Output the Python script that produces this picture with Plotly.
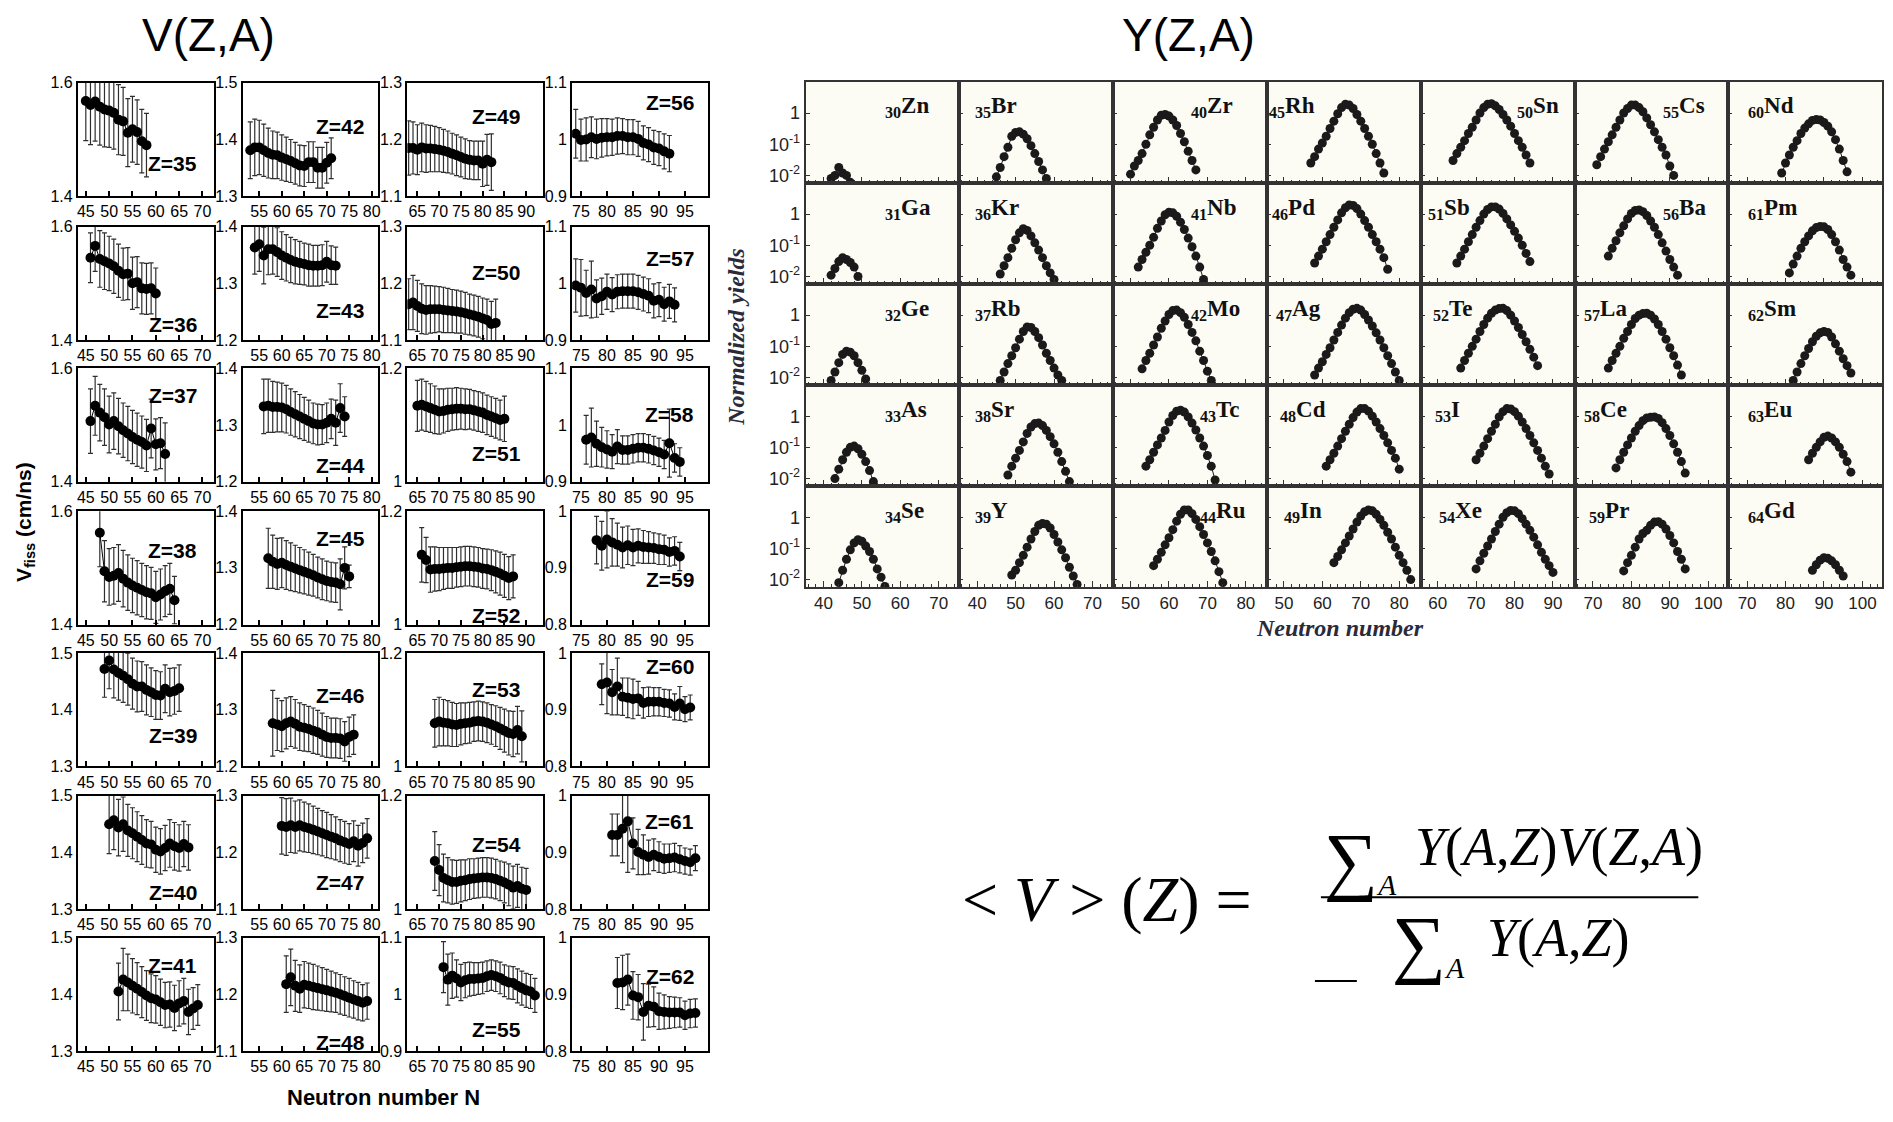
import plotly.graph_objects as go

W, H = 1893, 1122

# ---------------- V(Z,A): fission-fragment velocities (cm/ns) ----------------
V_Z = list(range(35, 63))
V_N_START = [45, 46, 46, 48, 49, 50, 52,
             53, 54, 56, 57, 58, 60, 61,
             63, 63, 65, 66, 69, 69, 71,
             74, 74, 76, 78, 79, 81, 82]
V_VALUES = [
    [1.568, 1.561, 1.567, 1.558, 1.553, 1.551, 1.547, 1.535, 1.532, 1.512, 1.518, 1.513, 1.497, 1.490],
    [1.545, 1.566, 1.543, 1.539, 1.535, 1.530, 1.522, 1.516, 1.517, 1.500, 1.502, 1.491, 1.490, 1.491, 1.482],
    [1.507, 1.534, 1.522, 1.514, 1.501, 1.507, 1.498, 1.491, 1.485, 1.479, 1.474, 1.470, 1.464, 1.494, 1.466, 1.468, 1.449],
    [1.562, 1.494, 1.484, 1.486, 1.491, 1.481, 1.474, 1.469, 1.465, 1.461, 1.457, 1.455, 1.448, 1.453, 1.459, 1.463, 1.443],
    [1.472, 1.487, 1.471, 1.465, 1.460, 1.454, 1.446, 1.441, 1.441, 1.435, 1.431, 1.426, 1.425, 1.437, 1.431, 1.433, 1.438],
    [1.450, 1.457, 1.444, 1.450, 1.439, 1.434, 1.428, 1.422, 1.416, 1.414, 1.405, 1.402, 1.408, 1.416, 1.411, 1.408, 1.415, 1.409],
    [1.405, 1.426, 1.421, 1.415, 1.410, 1.404, 1.398, 1.393, 1.391, 1.386, 1.381, 1.382, 1.376, 1.384, 1.388, 1.369, 1.375, 1.381],
    [1.381, 1.386, 1.386, 1.381, 1.376, 1.373, 1.372, 1.368, 1.365, 1.362, 1.358, 1.354, 1.353, 1.360, 1.360, 1.350, 1.350, 1.359, 1.367],
    [1.363, 1.369, 1.349, 1.360, 1.360, 1.355, 1.349, 1.345, 1.341, 1.338, 1.336, 1.334, 1.332, 1.331, 1.331, 1.332, 1.338, 1.332, 1.331],
    [1.333, 1.334, 1.332, 1.332, 1.331, 1.328, 1.323, 1.319, 1.315, 1.311, 1.307, 1.303, 1.301, 1.301, 1.304, 1.311, 1.304, 1.330, 1.315],
    [1.317, 1.311, 1.307, 1.309, 1.305, 1.302, 1.299, 1.296, 1.293, 1.290, 1.287, 1.283, 1.280, 1.277, 1.275, 1.274, 1.271, 1.300, 1.285],
    [1.276, 1.274, 1.271, 1.276, 1.279, 1.275, 1.270, 1.268, 1.266, 1.263, 1.260, 1.256, 1.252, 1.250, 1.250, 1.249, 1.244, 1.252, 1.256],
    [1.247, 1.245, 1.248, 1.245, 1.248, 1.245, 1.243, 1.240, 1.237, 1.234, 1.231, 1.228, 1.225, 1.221, 1.218, 1.215, 1.220, 1.212, 1.217, 1.225],
    [1.218, 1.230, 1.215, 1.210, 1.217, 1.215, 1.213, 1.211, 1.209, 1.207, 1.205, 1.203, 1.200, 1.197, 1.194, 1.191, 1.188, 1.185, 1.188],
    [1.185, 1.185, 1.182, 1.186, 1.184, 1.184, 1.183, 1.182, 1.180, 1.178, 1.175, 1.172, 1.169, 1.166, 1.164, 1.163, 1.163, 1.157, 1.164, 1.160],
    [1.163, 1.166, 1.160, 1.155, 1.153, 1.154, 1.154, 1.154, 1.153, 1.152, 1.151, 1.150, 1.149, 1.147, 1.145, 1.143, 1.141, 1.138, 1.135, 1.128, 1.130],
    [1.134, 1.136, 1.133, 1.130, 1.127, 1.124, 1.125, 1.127, 1.128, 1.129, 1.129, 1.128, 1.128, 1.126, 1.124, 1.122, 1.118, 1.115, 1.112, 1.109, 1.111],
    [1.123, 1.114, 1.097, 1.098, 1.098, 1.099, 1.100, 1.100, 1.101, 1.102, 1.103, 1.103, 1.102, 1.101, 1.099, 1.098, 1.096, 1.093, 1.090, 1.086, 1.082, 1.085],
    [1.076, 1.079, 1.077, 1.076, 1.074, 1.073, 1.075, 1.076, 1.077, 1.079, 1.080, 1.079, 1.077, 1.074, 1.071, 1.067, 1.063, 1.059, 1.057, 1.064, 1.053],
    [1.085, 1.069, 1.055, 1.051, 1.048, 1.048, 1.050, 1.051, 1.053, 1.054, 1.055, 1.056, 1.056, 1.055, 1.053, 1.050, 1.047, 1.043, 1.038, 1.041, 1.036, 1.034],
    [1.048, 1.026, 1.033, 1.028, 1.021, 1.025, 1.027, 1.027, 1.028, 1.029, 1.032, 1.034, 1.032, 1.029, 1.024, 1.021, 1.020, 1.015, 1.011, 1.007, 1.005, 0.998],
    [1.010, 0.999, 1.000, 1.004, 1.001, 1.003, 1.004, 1.004, 1.006, 1.006, 1.004, 1.004, 1.001, 0.994, 0.991, 0.986, 0.984, 0.979, 0.975],
    [0.996, 0.992, 0.983, 0.989, 0.973, 0.977, 0.985, 0.980, 0.985, 0.986, 0.986, 0.986, 0.984, 0.981, 0.978, 0.969, 0.971, 0.963, 0.968, 0.962],
    [0.974, 0.978, 0.967, 0.961, 0.957, 0.953, 0.962, 0.956, 0.956, 0.958, 0.960, 0.960, 0.958, 0.955, 0.952, 0.948, 0.968, 0.942, 0.935],
    [0.949, 0.939, 0.950, 0.945, 0.941, 0.936, 0.940, 0.936, 0.939, 0.937, 0.936, 0.935, 0.933, 0.932, 0.928, 0.930, 0.920],
    [0.945, 0.948, 0.931, 0.941, 0.923, 0.921, 0.919, 0.920, 0.912, 0.914, 0.914, 0.914, 0.912, 0.911, 0.905, 0.911, 0.901, 0.904],
    [0.931, 0.931, 0.942, 0.955, 0.916, 0.901, 0.896, 0.892, 0.896, 0.892, 0.889, 0.890, 0.891, 0.888, 0.885, 0.883, 0.890],
    [0.920, 0.921, 0.926, 0.898, 0.895, 0.869, 0.880, 0.878, 0.870, 0.869, 0.868, 0.868, 0.868, 0.863, 0.866, 0.867],
]
V_ERRORS = [
    [0.07, 0.07, 0.07, 0.068, 0.066, 0.065, 0.064, 0.062, 0.06, 0.06, 0.058, 0.057, 0.056, 0.056],
    [0.044, 0.045, 0.05, 0.05, 0.048, 0.048, 0.047, 0.046, 0.046, 0.046, 0.045, 0.045, 0.045, 0.045, 0.045],
    [0.057, 0.052, 0.05, 0.05, 0.05, 0.05, 0.049, 0.048, 0.048, 0.047, 0.047, 0.046, 0.046, 0.052, 0.045, 0.045, 0.055],
    [0.06, 0.054, 0.05, 0.05, 0.05, 0.05, 0.049, 0.048, 0.048, 0.047, 0.047, 0.046, 0.046, 0.045, 0.045, 0.045, 0.042],
    [0.05, 0.05, 0.05, 0.048, 0.047, 0.046, 0.045, 0.045, 0.044, 0.044, 0.043, 0.043, 0.042, 0.042, 0.042, 0.041, 0.041],
    [0.052, 0.052, 0.05, 0.048, 0.046, 0.045, 0.044, 0.043, 0.042, 0.041, 0.04, 0.04, 0.04, 0.042, 0.042, 0.041, 0.04, 0.04],
    [0.05, 0.055, 0.05, 0.048, 0.046, 0.045, 0.044, 0.043, 0.042, 0.041, 0.04, 0.04, 0.04, 0.04, 0.04, 0.04, 0.037, 0.036],
    [0.05, 0.05, 0.048, 0.046, 0.044, 0.042, 0.041, 0.04, 0.039, 0.038, 0.037, 0.036, 0.036, 0.036, 0.036, 0.036, 0.036, 0.036, 0.036],
    [0.047, 0.048, 0.05, 0.045, 0.044, 0.043, 0.042, 0.041, 0.04, 0.039, 0.038, 0.037, 0.037, 0.036, 0.036, 0.036, 0.036, 0.034, 0.033],
    [0.048, 0.047, 0.045, 0.044, 0.043, 0.042, 0.041, 0.04, 0.039, 0.038, 0.037, 0.036, 0.036, 0.035, 0.035, 0.035, 0.04, 0.043, 0.035],
    [0.053, 0.047, 0.045, 0.044, 0.043, 0.042, 0.041, 0.04, 0.039, 0.038, 0.037, 0.036, 0.036, 0.035, 0.035, 0.035, 0.045, 0.037, 0.02],
    [0.058, 0.046, 0.045, 0.045, 0.044, 0.043, 0.042, 0.041, 0.04, 0.04, 0.039, 0.038, 0.036, 0.035, 0.035, 0.035, 0.035, 0.035, 0.035],
    [0.05, 0.05, 0.048, 0.046, 0.045, 0.044, 0.043, 0.042, 0.041, 0.04, 0.04, 0.039, 0.038, 0.037, 0.037, 0.036, 0.036, 0.036, 0.035, 0.035],
    [0.05, 0.05, 0.045, 0.042, 0.041, 0.04, 0.04, 0.039, 0.038, 0.037, 0.036, 0.035, 0.035, 0.034, 0.034, 0.033, 0.033, 0.032, 0.032],
    [0.048, 0.046, 0.044, 0.043, 0.042, 0.041, 0.04, 0.039, 0.038, 0.037, 0.036, 0.036, 0.035, 0.035, 0.034, 0.034, 0.034, 0.04, 0.045, 0.05],
    [0.045, 0.048, 0.045, 0.044, 0.043, 0.042, 0.041, 0.04, 0.04, 0.039, 0.038, 0.038, 0.037, 0.037, 0.036, 0.036, 0.036, 0.036, 0.037, 0.04, 0.042],
    [0.045, 0.045, 0.044, 0.043, 0.042, 0.04, 0.039, 0.038, 0.037, 0.037, 0.036, 0.036, 0.035, 0.035, 0.035, 0.035, 0.035, 0.035, 0.035, 0.035, 0.04],
    [0.048, 0.04, 0.04, 0.039, 0.038, 0.037, 0.036, 0.036, 0.035, 0.035, 0.035, 0.035, 0.035, 0.035, 0.035, 0.035, 0.036, 0.037, 0.038, 0.038, 0.038, 0.038],
    [0.042, 0.043, 0.041, 0.04, 0.039, 0.038, 0.037, 0.036, 0.036, 0.035, 0.035, 0.035, 0.035, 0.035, 0.036, 0.037, 0.038, 0.039, 0.04, 0.042, 0.045],
    [0.052, 0.045, 0.042, 0.04, 0.039, 0.038, 0.037, 0.036, 0.036, 0.035, 0.035, 0.035, 0.035, 0.035, 0.035, 0.035, 0.036, 0.037, 0.038, 0.038, 0.038, 0.038],
    [0.045, 0.045, 0.04, 0.033, 0.032, 0.031, 0.03, 0.029, 0.028, 0.028, 0.027, 0.027, 0.027, 0.028, 0.028, 0.029, 0.029, 0.03, 0.03, 0.03, 0.03, 0.03],
    [0.043, 0.037, 0.038, 0.036, 0.035, 0.034, 0.033, 0.032, 0.032, 0.031, 0.031, 0.031, 0.031, 0.03, 0.03, 0.03, 0.03, 0.031, 0.032],
    [0.047, 0.05, 0.04, 0.05, 0.033, 0.032, 0.031, 0.03, 0.03, 0.03, 0.03, 0.03, 0.03, 0.03, 0.03, 0.03, 0.03, 0.03, 0.03, 0.03],
    [0.043, 0.052, 0.04, 0.035, 0.033, 0.03, 0.03, 0.025, 0.025, 0.025, 0.025, 0.025, 0.025, 0.025, 0.025, 0.025, 0.06, 0.025, 0.025],
    [0.042, 0.043, 0.05, 0.042, 0.038, 0.036, 0.034, 0.032, 0.03, 0.029, 0.028, 0.027, 0.027, 0.026, 0.025, 0.025, 0.025],
    [0.036, 0.055, 0.04, 0.05, 0.033, 0.035, 0.035, 0.03, 0.027, 0.026, 0.025, 0.025, 0.024, 0.024, 0.023, 0.03, 0.022, 0.022],
    [0.037, 0.037, 0.06, 0.09, 0.045, 0.04, 0.035, 0.03, 0.028, 0.027, 0.026, 0.025, 0.025, 0.024, 0.023, 0.023, 0.022],
    [0.045, 0.048, 0.045, 0.042, 0.04, 0.05, 0.038, 0.035, 0.032, 0.03, 0.028, 0.027, 0.026, 0.025, 0.025, 0.025],
]
V_YTICKS = [
    [1.4, 1.6], [1.4, 1.6], [1.4, 1.6], [1.4, 1.6], [1.3, 1.4, 1.5], [1.3, 1.4, 1.5], [1.3, 1.4, 1.5],
    [1.3, 1.4, 1.5], [1.2, 1.3, 1.4], [1.2, 1.3, 1.4], [1.2, 1.3, 1.4], [1.2, 1.3, 1.4], [1.1, 1.2, 1.3], [1.1, 1.2, 1.3],
    [1.1, 1.2, 1.3], [1.1, 1.2, 1.3], [1.0, 1.2], [1.0, 1.2], [1.0, 1.2], [1.0, 1.2], [0.9, 1.0, 1.1],
    [0.9, 1.0, 1.1], [0.9, 1.0, 1.1], [0.9, 1.0, 1.1], [0.8, 0.9, 1.0], [0.8, 0.9, 1.0], [0.8, 0.9, 1.0], [0.8, 0.9, 1.0],
]
V_XRANGE = [[43.3, 72.4], [51.3, 81.5], [62.7, 93.9], [73.3, 99.4]]

# ---------------- Y(Z,A): normalized isotopic yields ----------------
Y_SYMBOLS = ["Zn", "Ga", "Ge", "As", "Se", "Br", "Kr", "Rb", "Sr", "Y",
             "Zr", "Nb", "Mo", "Tc", "Ru", "Rh", "Pd", "Ag", "Cd", "In",
             "Sn", "Sb", "Te", "I", "Xe", "Cs", "Ba", "La", "Ce", "Pr",
             "Nd", "Pm", "Sm", "Eu", "Gd"]
Y_Z = list(range(30, 65))
Y_N_START = [42, 42, 42, 43, 44, 45, 46, 46, 48, 49,
             50, 52, 53, 54, 56, 57, 58, 58, 61, 63,
             64, 65, 66, 70, 70, 71, 74, 74, 76, 78,
             79, 81, 82, 86, 87]
Y_VALUES = [
    [0.008, 0.01, 0.018, 0.012, 0.01, 0.006],
    [0.011, 0.018, 0.03, 0.04, 0.035, 0.028, 0.02, 0.01],
    [0.008, 0.015, 0.03, 0.055, 0.07, 0.065, 0.05, 0.03, 0.017, 0.009],
    [0.01, 0.02, 0.04, 0.07, 0.1, 0.11, 0.09, 0.06, 0.035, 0.018, 0.008],
    [0.008, 0.02, 0.045, 0.09, 0.15, 0.19, 0.17, 0.12, 0.08, 0.045, 0.022, 0.012, 0.006],
    [0.009, 0.018, 0.04, 0.08, 0.18, 0.24, 0.25, 0.21, 0.15, 0.09, 0.05, 0.028, 0.015, 0.008],
    [0.012, 0.022, 0.04, 0.08, 0.15, 0.25, 0.34, 0.3, 0.2, 0.12, 0.07, 0.04, 0.022, 0.013, 0.008],
    [0.008, 0.015, 0.028, 0.05, 0.09, 0.17, 0.3, 0.42, 0.4, 0.3, 0.19, 0.11, 0.06, 0.035, 0.02, 0.012, 0.008],
    [0.013, 0.025, 0.045, 0.08, 0.15, 0.28, 0.45, 0.58, 0.6, 0.5, 0.35, 0.22, 0.13, 0.07, 0.035, 0.017, 0.008],
    [0.014, 0.02, 0.035, 0.06, 0.11, 0.2, 0.35, 0.55, 0.63, 0.6, 0.45, 0.28, 0.16, 0.09, 0.05, 0.025, 0.013, 0.007],
    [0.011, 0.02, 0.03, 0.05, 0.1, 0.2, 0.35, 0.6, 0.85, 0.9, 0.8, 0.6, 0.4, 0.22, 0.12, 0.06, 0.03, 0.015],
    [0.02, 0.035, 0.06, 0.1, 0.18, 0.35, 0.6, 0.95, 1.15, 1.1, 0.85, 0.55, 0.32, 0.17, 0.09, 0.045, 0.02, 0.008],
    [0.019, 0.035, 0.06, 0.11, 0.2, 0.38, 0.65, 1.05, 1.4, 1.45, 1.2, 0.85, 0.5, 0.28, 0.15, 0.07, 0.035, 0.016, 0.008],
    [0.025, 0.04, 0.07, 0.12, 0.2, 0.35, 0.65, 1.05, 1.45, 1.55, 1.35, 0.95, 0.6, 0.36, 0.2, 0.11, 0.055, 0.025, 0.009],
    [0.028, 0.045, 0.075, 0.13, 0.22, 0.4, 0.75, 1.25, 1.7, 1.7, 1.3, 0.85, 0.5, 0.28, 0.15, 0.08, 0.04, 0.018, 0.008],
    [0.025, 0.04, 0.07, 0.11, 0.18, 0.32, 0.55, 0.95, 1.5, 1.9, 1.8, 1.4, 0.9, 0.55, 0.32, 0.18, 0.1, 0.05, 0.025, 0.012],
    [0.027, 0.045, 0.075, 0.13, 0.22, 0.38, 0.65, 1.1, 1.6, 1.95, 1.9, 1.5, 1.0, 0.62, 0.38, 0.22, 0.13, 0.075, 0.04, 0.017],
    [0.012, 0.02, 0.032, 0.055, 0.09, 0.16, 0.28, 0.48, 0.8, 1.2, 1.55, 1.65, 1.45, 1.05, 0.7, 0.45, 0.27, 0.16, 0.09, 0.05, 0.028, 0.015, 0.008],
    [0.025, 0.04, 0.065, 0.11, 0.19, 0.33, 0.55, 0.9, 1.35, 1.75, 1.75, 1.45, 1.0, 0.65, 0.4, 0.24, 0.14, 0.08, 0.045, 0.02],
    [0.035, 0.055, 0.09, 0.15, 0.25, 0.42, 0.7, 1.1, 1.5, 1.7, 1.6, 1.25, 0.85, 0.55, 0.33, 0.2, 0.11, 0.06, 0.035, 0.02, 0.01],
    [0.03, 0.05, 0.08, 0.13, 0.22, 0.35, 0.6, 1.0, 1.5, 1.9, 2.0, 1.7, 1.3, 0.9, 0.6, 0.38, 0.22, 0.13, 0.08, 0.045, 0.025],
    [0.027, 0.045, 0.075, 0.13, 0.22, 0.38, 0.62, 1.0, 1.4, 1.7, 1.7, 1.45, 1.05, 0.7, 0.45, 0.28, 0.17, 0.1, 0.055, 0.03],
    [0.02, 0.035, 0.06, 0.1, 0.17, 0.3, 0.5, 0.8, 1.15, 1.45, 1.62, 1.65, 1.4, 1.0, 0.65, 0.4, 0.24, 0.14, 0.08, 0.045, 0.024],
    [0.04, 0.065, 0.11, 0.19, 0.33, 0.55, 0.95, 1.4, 1.75, 1.7, 1.4, 1.0, 0.65, 0.4, 0.24, 0.14, 0.08, 0.045, 0.025, 0.014],
    [0.022, 0.04, 0.07, 0.12, 0.2, 0.35, 0.6, 1.0, 1.4, 1.65, 1.6, 1.3, 0.9, 0.6, 0.38, 0.23, 0.13, 0.075, 0.045, 0.028, 0.017],
    [0.022, 0.04, 0.07, 0.12, 0.2, 0.35, 0.6, 1.0, 1.4, 1.8, 1.8, 1.5, 1.1, 0.7, 0.42, 0.25, 0.14, 0.08, 0.045, 0.02, 0.01],
    [0.045, 0.08, 0.14, 0.25, 0.42, 0.7, 1.05, 1.3, 1.35, 1.2, 0.9, 0.6, 0.38, 0.22, 0.12, 0.065, 0.035, 0.02, 0.011],
    [0.02, 0.035, 0.06, 0.1, 0.18, 0.3, 0.5, 0.78, 1.0, 1.12, 1.15, 1.0, 0.75, 0.5, 0.3, 0.17, 0.09, 0.05, 0.025, 0.012],
    [0.022, 0.04, 0.07, 0.12, 0.2, 0.33, 0.5, 0.72, 0.88, 0.92, 0.95, 0.85, 0.62, 0.4, 0.24, 0.13, 0.07, 0.035, 0.015],
    [0.019, 0.035, 0.06, 0.11, 0.2, 0.3, 0.38, 0.55, 0.7, 0.72, 0.6, 0.42, 0.26, 0.15, 0.08, 0.045, 0.022],
    [0.012, 0.025, 0.045, 0.08, 0.13, 0.22, 0.33, 0.45, 0.58, 0.62, 0.6, 0.5, 0.38, 0.25, 0.14, 0.07, 0.03, 0.013],
    [0.013, 0.025, 0.045, 0.08, 0.13, 0.2, 0.29, 0.37, 0.4, 0.39, 0.32, 0.22, 0.13, 0.07, 0.035, 0.02, 0.011],
    [0.008, 0.015, 0.028, 0.05, 0.085, 0.14, 0.21, 0.27, 0.3, 0.28, 0.2, 0.12, 0.07, 0.04, 0.024, 0.014],
    [0.04, 0.065, 0.1, 0.15, 0.21, 0.23, 0.2, 0.15, 0.1, 0.06, 0.035, 0.016],
    [0.02, 0.03, 0.042, 0.05, 0.048, 0.04, 0.03, 0.02, 0.013],
]
Y_XRANGE = [[35.4, 75.4], [35.4, 75.4], [45.5, 85.5], [45.6, 85.6],
            [55.6, 95.6], [65.2, 105.2], [65.1, 105.1]]
Y_YTICKS = [0.01, 0.1, 1]
Y_YTICKTEXT = ["10<sup>-2</sup>", "10<sup>-1</sup>", "1"]

# ---------------- geometry (pixels) ----------------
V_COL_X = [77, 242, 407, 572]
V_ROW_Y = [76, 222, 366, 511, 655, 800, 944]
V_PW, V_PH = 136, 115
V_LABEL_POS = [(172, 158), (172, 321), (172, 393), (172, 551), (172, 739), (172, 898), (172, 972),
               (340, 120), (340, 307), (340, 465), (340, 539), (340, 698), (340, 888), (340, 1050),
               (496, 110), (496, 269), (496, 452), (496, 617), (496, 692), (496, 849), (496, 1037),
               (670, 96), (670, 254), (670, 413), (670, 580), (670, 669), (670, 826), (670, 983)]

Y_X0, Y_PW = 806, 154
Y_Y0, Y_PH = 75, 102.6
Y_LABEL_X = [883] * 5 + [974] * 5 + [1190, 1190, 1190, 1199, 1199] + [1268, 1271, 1275, 1279, 1283] + \
            [1516, 1427, 1432, 1434, 1438] + [1663, 1663, 1584, 1584, 1589] + [1748] * 5

SANS = "Liberation Sans, Arial, Helvetica, sans-serif"
SERIF = "Liberation Serif, Times New Roman, serif"


def fx(x):
    return x / W


def fy(y):
    return 1 - y / H


fig = go.Figure()
layout = {}
annotations = []
shapes = []


def axis_names(k):
    s = "" if k == 1 else str(k)
    return "x" + s, "y" + s, "xaxis" + s, "yaxis" + s


# ---- left block: velocity panels with error bars
for i, z in enumerate(V_Z):
    col, row = i // 7, i % 7
    k = i + 1
    xn, yn, xa, ya = axis_names(k)
    x0 = V_COL_X[col]
    y0 = V_ROW_Y[row]
    ns = [V_N_START[i] + j for j in range(len(V_VALUES[i]))]
    fig.add_trace(go.Scatter(
        x=ns, y=V_VALUES[i], xaxis=xn, yaxis=yn, mode="lines+markers",
        line=dict(color="black", width=1),
        marker=dict(size=10, color="black"),
        error_y=dict(type="data", array=V_ERRORS[i], color="#2e2e2e", thickness=1.2, width=2.5),
        showlegend=False, hoverinfo="skip"))
    ticks = V_YTICKS[i]
    layout[xa] = dict(domain=[fx(x0), fx(x0 + V_PW)], anchor=yn, range=V_XRANGE[col],
                      tick0=0, dtick=5, ticks="inside", ticklen=5, tickwidth=1.5, tickcolor="black",
                      showline=True, mirror=True, linecolor="black", linewidth=2,
                      showgrid=False, zeroline=False,
                      tickfont=dict(family=SANS, size=16, color="black"))
    layout[ya] = dict(domain=[fy(y0 + V_PH), fy(y0)], anchor=xn, range=[ticks[0], ticks[-1]],
                      tickmode="array", tickvals=ticks, ticktext=[f"{v:g}" for v in ticks],
                      ticks="", showline=True, mirror=True, linecolor="black", linewidth=2,
                      showgrid=False, zeroline=False,
                      tickfont=dict(family=SANS, size=16, color="black"))
    lx, ly = V_LABEL_POS[i]
    annotations.append(dict(x=fx(lx), y=fy(ly), xref="paper", yref="paper", showarrow=False,
                            text=f"<b>Z={z}</b>", xanchor="center", yanchor="middle",
                            font=dict(family=SANS, size=21, color="black")))

# ---- right block: yield panels on log scale
shapes.append(dict(type="rect", xref="paper", yref="paper", layer="below",
                   x0=fx(Y_X0), x1=fx(Y_X0 + 7 * Y_PW), y0=fy(Y_Y0 + 5 * Y_PH), y1=fy(Y_Y0),
                   fillcolor="#fcfcf4", line=dict(width=0)))
for i, sym in enumerate(Y_SYMBOLS):
    col, row = i // 5, i % 5
    k = 29 + i
    xn, yn, xa, ya = axis_names(k)
    x0 = Y_X0 + col * Y_PW
    y0 = Y_Y0 + row * Y_PH
    ns = [Y_N_START[i] + j for j in range(len(Y_VALUES[i]))]
    fig.add_trace(go.Scatter(
        x=ns, y=Y_VALUES[i], xaxis=xn, yaxis=yn, mode="lines+markers",
        line=dict(color="#1a1a1a", width=1),
        marker=dict(size=9, color="#1a1a1a"),
        showlegend=False, hoverinfo="skip"))
    layout[xa] = dict(domain=[fx(x0), fx(x0 + Y_PW)], anchor=yn, range=Y_XRANGE[col],
                      tick0=0, dtick=10, ticks="inside", ticklen=6, tickwidth=1, tickcolor="#333",
                      minor=dict(ticks="inside", ticklen=3, tick0=0, dtick=2, tickcolor="#333"),
                      showticklabels=(row == 4),
                      showline=True, mirror=True, linecolor="#333", linewidth=2,
                      showgrid=False, zeroline=False,
                      tickfont=dict(family=SANS, size=17, color="#222"))
    layout[ya] = dict(domain=[fy(y0 + Y_PH), fy(y0)], anchor=xn, type="log", range=[-2.24, 1.0],
                      tickmode="array", tickvals=Y_YTICKS, ticktext=Y_YTICKTEXT,
                      ticks="inside", ticklen=4, tickcolor="#333",
                      showticklabels=(col == 0),
                      showline=True, mirror=True, linecolor="#333", linewidth=2,
                      showgrid=False, zeroline=False,
                      tickfont=dict(family=SANS, size=18, color="#222"))
    annotations.append(dict(x=fx(Y_LABEL_X[i]), y=fy(y0 + 26), xref="paper", yref="paper",
                            showarrow=False, xanchor="left", yanchor="middle",
                            text=f"<b><sub>{Y_Z[i]}</sub>{sym}</b>",
                            font=dict(family=SERIF, size=23, color="#111")))


def note(text, x, y, size, family=SANS, color="black", angle=0, xanchor="center"):
    annotations.append(dict(x=fx(x), y=fy(y), xref="paper", yref="paper", showarrow=False,
                            text=text, xanchor=xanchor, yanchor="middle", textangle=angle,
                            borderpad=0,
                            font=dict(family=family, size=size, color=color)))


# titles and axis captions
note("V(Z,A)", 208, 27, 46)
note("Y(Z,A)", 1189, 27, 46)
note("<b>V<sub>fiss</sub> (cm/ns)</b>", 24, 522, 21, angle=-90)
note("<b>Neutron number N</b>", 383, 1106, 22)
note("<b><i>Normalized yields</i></b>", 736, 334, 24, family=SERIF, color="#2a2a3a", angle=-90)
note("<b><i>Neutron number</i></b>", 1341, 630, 24, family=SERIF, color="#2a2a3a")

# weighted-average formula: summation sign and its index set as one text
SUM_A = "<span style=\"font-size:76px\">\u2211</span><sub><i>A</i></sub>"
note("&lt; <i>V</i> &gt; (<i>Z</i>) =", 1108, 905, 64, family=SERIF)
note(SUM_A, 1362, 866, 42, family=SERIF)
note("<i>Y</i>(<i>A</i>,<i>Z</i>)<i>V</i>(<i>Z</i>,<i>A</i>)", 1560, 852, 54, family=SERIF)
note(SUM_A, 1430, 950, 42, family=SERIF)
note("<i>Y</i>(<i>A</i>,<i>Z</i>)", 1560, 944, 54, family=SERIF)
shapes.append(dict(type="line", xref="paper", yref="paper", x0=fx(1322), x1=fx(1700),
                   y0=fy(903), y1=fy(903), line=dict(color="black", width=2)))
shapes.append(dict(type="line", xref="paper", yref="paper", x0=fx(1316), x1=fx(1358),
                   y0=fy(988), y1=fy(988), line=dict(color="black", width=2)))

fig.update_layout(
    width=W, height=H, autosize=False,
    margin=dict(l=0, r=0, t=0, b=0),
    paper_bgcolor="white", plot_bgcolor="rgba(0,0,0,0)",
    showlegend=False,
    annotations=annotations, shapes=shapes,
    **layout)

fig.write_html("out.html")
